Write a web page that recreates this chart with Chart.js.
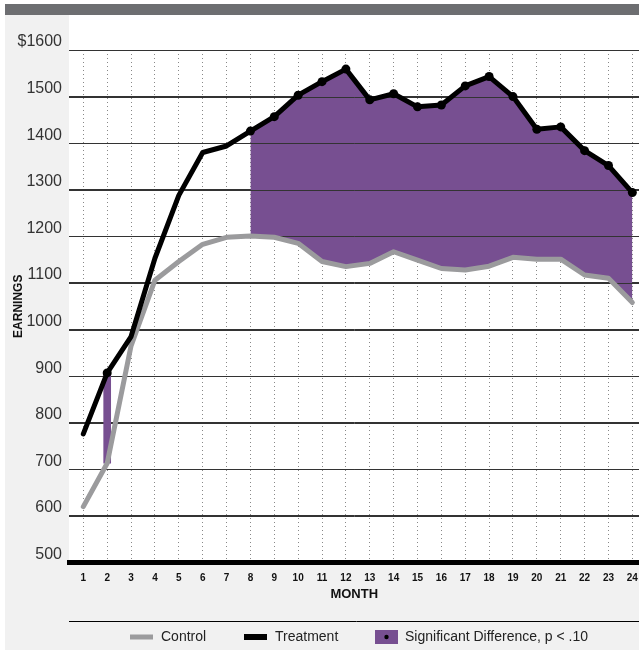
<!DOCTYPE html>
<html>
<head>
<meta charset="utf-8">
<script src="https://cdn.jsdelivr.net/npm/chart.js@4.4.1/dist/chart.umd.min.js"></script>
<style>
  html, body { margin: 0; padding: 0; background: #fff; overflow: hidden; }
  #wrap { width: 639px; height: 654px; position: relative; overflow: hidden; }
  canvas { display: block; }
</style>
</head>
<body>
<div id="wrap"><canvas id="earnings" width="639" height="654"></canvas></div>
<script>
// values
const months = [1, 2, 3, 4, 5, 6, 7, 8, 9, 10, 11, 12, 13, 14, 15, 16, 17, 18, 19, 20, 21, 22, 23, 24];
const control = [620, 713, 965, 1106, 1146, 1183, 1198, 1201, 1198, 1185, 1146, 1135, 1142, 1167, 1149, 1131, 1128, 1136, 1155, 1151, 1151, 1117, 1110, 1058];
const treatment = [776, 907, 985, 1153, 1288, 1380, 1394, 1426, 1457, 1503, 1532, 1559, 1493, 1506, 1478, 1482, 1523, 1543, 1500, 1430, 1435, 1384, 1352, 1294];
// months where the difference is significant (p < .10)
const sigSingle = [2];
const sigRun = [8, 9, 10, 11, 12, 13, 14, 15, 16, 17, 18, 19, 20, 21, 22, 23, 24];
const yTicks = [500, 600, 700, 800, 900, 1000, 1100, 1200, 1300, 1400, 1500, 1600];

const PURPLE = '#774f91';
const GRAY = '#9b9b9d';
const FONT = "'Liberation Sans', Arial, Helvetica, sans-serif";
const PAGE_W = 639;

const isSig = m => sigSingle.includes(m) || sigRun.includes(m);
const pts = (list, arr) => list.map(m => ({ x: m, y: arr[m - 1] }));

// page panels behind the chart
const backdrop = {
  id: 'backdrop',
  beforeDraw(chart) {
    const { ctx, chartArea: a } = chart;
    ctx.save();
    ctx.fillStyle = '#fff';
    ctx.fillRect(0, 0, chart.width, chart.height);
    ctx.fillStyle = '#f1f1f1';
    ctx.fillRect(5, 15, chart.width - 5, 635);
    ctx.fillStyle = '#6d6e71';
    ctx.fillRect(5, 4, chart.width - 5, 11);
    ctx.fillStyle = '#fff';
    ctx.fillRect(a.left, 15, chart.width - a.left, a.bottom - 15);
    ctx.restore();
  }
};

// horizontal rules show through the purple area
const gridOver = {
  id: 'gridOver',
  afterDatasetDraw(chart, args) {
    if (args.index !== 3) return;
    const { ctx, chartArea: a } = chart;
    const y = chart.scales.y;
    ctx.save();
    ctx.strokeStyle = '#333';
    ctx.lineWidth = 1;
    yTicks.forEach(v => {
      if (v === yTicks[0]) return;
      const p = Math.round(y.getPixelForValue(v)) + 0.5;
      ctx.beginPath();
      ctx.moveTo(a.left, p);
      ctx.lineTo(a.right, p);
      ctx.stroke();
    });
    ctx.restore();
  }
};

// legend row under the axis
const legendRow = {
  id: 'legendRow',
  afterDraw(chart) {
    const { ctx, chartArea: a } = chart;
    ctx.save();
    ctx.strokeStyle = '#000';
    ctx.lineWidth = 1;
    ctx.beginPath();
    ctx.moveTo(a.left, 621.5);
    ctx.lineTo(chart.width, 621.5);
    ctx.stroke();

    const cy = 637;
    ctx.fillStyle = GRAY;
    ctx.fillRect(130, cy - 2.5, 23, 5);
    ctx.fillStyle = '#000';
    ctx.fillRect(244, cy - 3, 23, 6);
    ctx.fillStyle = PURPLE;
    ctx.fillRect(375, cy - 7, 23, 14);
    ctx.fillStyle = '#000';
    ctx.beginPath();
    ctx.arc(386.5, cy, 2.2, 0, Math.PI * 2);
    ctx.fill();

    ctx.font = '14px ' + FONT;
    ctx.fillStyle = '#222';
    ctx.textBaseline = 'middle';
    ctx.fillText('Control', 161, cy);
    ctx.fillText('Treatment', 275, cy);
    ctx.fillText('Significant Difference, p < .10', 405, cy);
    ctx.restore();
  }
};

function makeConfig() {
  return {
    type: 'line',
    data: {
      datasets: [
        {
          label: 'Treatment',
          data: pts(months, treatment),
          borderColor: '#000',
          borderWidth: 5,
          borderCapStyle: 'round',
          borderJoinStyle: 'round',
          pointRadius: ctx => isSig(months[ctx.dataIndex]) ? 4.5 : 0,
          pointBackgroundColor: '#000',
          pointBorderWidth: 0,
          tension: 0,
          fill: false
        },
        {
          label: 'Control',
          data: pts(months, control),
          borderColor: GRAY,
          borderWidth: 5,
          borderCapStyle: 'round',
          borderJoinStyle: 'round',
          pointRadius: 0,
          tension: 0,
          fill: false
        },
        {
          type: 'bar',
          label: 'sig-single',
          data: sigSingle.map(m => ({ x: m, y: [control[m - 1], treatment[m - 1]] })),
          backgroundColor: PURPLE,
          barThickness: 7,
          borderWidth: 0
        },
        {
          label: 'sig-top',
          data: pts(sigRun, treatment),
          borderColor: 'transparent',
          borderWidth: 1,
          pointRadius: 0,
          backgroundColor: PURPLE,
          tension: 0,
          fill: { target: 4 }
        },
        {
          label: 'sig-bottom',
          data: pts(sigRun, control),
          borderColor: 'transparent',
          borderWidth: 1,
          pointRadius: 0,
          tension: 0,
          fill: false
        }
      ]
    },
    options: {
      responsive: false,
      animation: false,
      events: [],
      layout: { padding: { top: 50, left: 0, right: 0, bottom: 0 } },
      plugins: { legend: { display: false }, tooltip: { enabled: false } },
      scales: {
        x: {
          type: 'linear',
          min: 0.4,
          max: 24.3,
          offset: false,
          afterBuildTicks: s => { s.ticks = months.map(v => ({ value: v })); },
          afterFit: s => { s.height = 91.5; s.paddingLeft = 0; s.paddingRight = 0; },
          grid: { offset: false, color: '#888', lineWidth: 1, drawTicks: false },
          border: { display: true, width: 5, color: '#000', dash: [1, 3] },
          ticks: {
            padding: 10,
            autoSkip: false,
            maxRotation: 0,
            color: '#111',
            font: { family: FONT, size: 10, weight: 'bold' },
            callback: v => String(v)
          },
          title: {
            display: true,
            text: 'MONTH',
            color: '#111',
            font: { family: FONT, size: 13, weight: 'bold' },
            padding: { top: 0, bottom: 52 }
          }
        },
        y: {
          min: 500,
          max: 1600,
          beginAtZero: false,
          afterBuildTicks: s => { s.ticks = yTicks.map(v => ({ value: v })); },
          afterFit: s => { s.width = 69; },
          grid: { offset: false, color: '#333', lineWidth: 1, drawTicks: false },
          border: { display: false },
          ticks: {
            padding: 7,
            autoSkip: false,
            labelOffset: -8,
            color: '#333',
            font: { family: FONT, size: 16 },
            callback: v => v === 1600 ? '$1600' : String(v)
          },
          title: {
            display: true,
            text: 'EARNINGS',
            color: '#111',
            font: { family: FONT, size: 12, weight: 'bold' },
            padding: { top: 11, bottom: 0 }
          }
        }
      }
    },
    plugins: [backdrop, gridOver, legendRow]
  };
}

const canvas = document.getElementById('earnings');
let chart = new Chart(canvas, makeConfig());

// the plot should run to the right edge of the page; widen the canvas
// by whatever the layout holds back and let the wrapper clip it
const gap = chart.width - chart.chartArea.right;
if (gap > 0.5) {
  chart.destroy();
  canvas.width = Math.round(PAGE_W + gap);
  canvas.height = 654;
  canvas.style.width = canvas.width + 'px';
  canvas.style.height = '654px';
  chart = new Chart(canvas, makeConfig());
}
</script>
</body>
</html>
